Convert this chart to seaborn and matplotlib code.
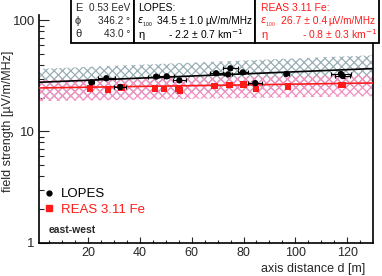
import numpy as np
import pandas as pd
import seaborn as sns
import matplotlib
matplotlib.use("Agg")
import matplotlib.pyplot as plt
from matplotlib.patches import Rectangle
from matplotlib.lines import Line2D
from matplotlib.ticker import FixedLocator, NullFormatter

# ---------------------------------------------------------------- data
lopes_d = [21.2, 27.0, 32.3, 46.2, 50.3, 55.2, 69.4, 74.0, 74.9, 79.7, 84.5, 96.5, 117.6, 118.3]
lopes_f = [27.7, 30.2, 25.2, 31.2, 31.4, 28.9, 33.5, 32.7, 37.1, 34.1, 27.3, 33.0, 33.0, 31.6]
lopes_derr = [1.0, 3.2, 2.3, 3.0, 3.0, 2.6, 2.5, 1.5, 3.0, 2.0, 2.6, 1.0, 3.9, 3.0]
lopes_ferr = [1.2, 1.2, 1.0, 1.1, 1.1, 1.2, 1.1, 1.1, 1.3, 1.1, 1.0, 1.0, 1.2, 1.1]

reas_d = [20.7, 27.7, 32.9, 45.8, 49.3, 54.8, 55.5, 68.7, 74.5, 80.0, 84.8, 97.1, 117.6, 118.3]
reas_f = [24.5, 23.8, 25.0, 24.5, 24.1, 24.1, 23.5, 25.7, 26.2, 26.4, 24.1, 25.3, 26.1, 26.3]

# fit results (eps_100 in uV/m/MHz, eta in 1/km)
lopes_eps, lopes_eta = 34.5, -2.2
reas_eps, reas_eta = 26.7, -0.8
lopes_band = (0.70, 1.32)
reas_band = (0.76, 1.18)

# ---------------------------------------------------------------- style
sns.set_theme(style="ticks")
plt.rcParams["font.family"] = ["Liberation Sans", "DejaVu Sans"]
plt.rcParams["hatch.linewidth"] = 0.9

W, H = 382, 276
fig = plt.figure(figsize=(W / 100, H / 100), dpi=100)
ax = fig.add_axes([39 / W, 1 - 242.5 / H, (373 - 39) / W, (242.5 - 15) / H])


def px(x, y):
    return x / W, 1 - y / H


d = np.linspace(1, 130, 200)
fit = pd.DataFrame({
    "d": d,
    "lopes": lopes_eps * np.exp(-lopes_eta * (d - 100) / 1000),
    "reas": reas_eps * np.exp(-reas_eta * (d - 100) / 1000),
})

ax.fill_between(fit["d"], fit["lopes"] * lopes_band[0], fit["lopes"] * lopes_band[1],
                facecolor="none", edgecolor="#99aeb5", hatch="xxxx", linewidth=0, zorder=1)
ax.fill_between(fit["d"], fit["reas"] * reas_band[0], fit["reas"] * reas_band[1],
                facecolor="none", edgecolor="#f38fc3", hatch="xxxx", linewidth=0, zorder=1)

sns.lineplot(data=fit, x="d", y="lopes", color="black", lw=1.2, ax=ax, zorder=3)
sns.lineplot(data=fit, x="d", y="reas", color="#ff1a1a", lw=1.2, ax=ax, zorder=3)

sns.scatterplot(x=reas_d, y=reas_f, marker="s", s=22, color="#ff1a1a", edgecolor="none",
                ax=ax, zorder=5)
ax.errorbar(lopes_d, lopes_f, xerr=lopes_derr, yerr=lopes_ferr, fmt="none", ecolor="black",
            elinewidth=0.8, capsize=1.5, capthick=0.8, zorder=6)
sns.scatterplot(x=lopes_d, y=lopes_f, marker="o", s=20, color="black", edgecolor="none",
                ax=ax, zorder=7)

ax.set_yscale("log")
ax.set_xlim(1, 130)
ax.set_ylim(1, 112)
ax.set_xticks([20, 40, 60, 80, 100, 120])
ax.xaxis.set_minor_locator(FixedLocator(np.arange(5, 130, 5)))
ax.set_yticks([1, 10, 100])
ax.set_yticklabels(["1", "10", "100"])
ax.yaxis.set_minor_locator(FixedLocator([m * 10 ** e for e in range(0, 2) for m in range(2, 10)]))
ax.yaxis.set_minor_formatter(NullFormatter())
ax.tick_params(axis="x", which="major", direction="in", length=4.5, width=0.8, labelsize=9, pad=3)
ax.tick_params(axis="x", which="minor", direction="in", length=2.2, width=0.8)
ax.tick_params(axis="y", which="major", direction="in", length=7, width=0.8, labelsize=9.5, pad=3)
ax.tick_params(axis="y", which="minor", direction="in", length=3.6, width=0.8)
ax.spines["top"].set_visible(False)
for s in ["left", "bottom", "right"]:
    ax.spines[s].set_linewidth(1.2)
    ax.spines[s].set_color("black")
ax.set_xlabel("")
ax.set_ylabel("")

fig.text(*px(365, 269), "axis distance d [m]", ha="right", va="center", fontsize=9)
fig.text(*px(8, 121), "field strength [µV/m/MHz]", ha="center", va="center",
         rotation=90, fontsize=9)

# legend
handles = [Line2D([], [], marker="o", color="black", ls="none", ms=3.5),
           Line2D([], [], marker="s", color="#ff1a1a", ls="none", ms=4)]
ax.legend(handles, ["LOPES", "REAS 3.11 Fe"], loc="upper left",
          bbox_to_anchor=px(44, 188), bbox_transform=fig.transFigure,
          frameon=False, fontsize=9.5, labelcolor=["black", "#ff1a1a"],
          handlelength=0.8, handletextpad=0.5, borderpad=0, borderaxespad=0,
          labelspacing=0.25)
fig.text(*px(49, 230), "east-west", fontsize=7.5, fontweight="bold", va="center")

# info boxes
for x0, x1 in [(71, 134), (134, 255), (255, 379)]:
    fig.add_artist(Rectangle(px(x0, 43), (x1 - x0) / W, 44 / H, transform=fig.transFigure,
                             facecolor="white", edgecolor="black", lw=1.3, zorder=10))

box1 = [("E", "0.53 EeV", 8), ("ϕ", "346.2 °", 21), ("θ", "43.0 °", 34)]
for sym, val, y in box1:
    fig.text(*px(75, y), sym, fontsize=8, va="center", zorder=11)
    fig.text(*px(130, y), val, fontsize=7.2, va="center", ha="right", zorder=11)

red = "#ff1a1a"
for x0, col, title, eps, unit, eta, eps_x, unit_x, eta_x in [
        (138, "black", "LOPES:", "34.5 ± 1.0", "µV/m/MHz", "- 2.2 ± 0.7 km$^{-1}$", 157, 205, 168),
        (261, red, "REAS 3.11 Fe:", "26.7 ± 0.4", "µV/m/MHz", "- 0.8 ± 0.3 km$^{-1}$", 281, 328, 302)]:
    fig.text(*px(x0, 8), title, fontsize=7.5, va="center", color=col, zorder=11)
    fig.text(*px(x0 - 1, 22), r"$\varepsilon_{_{100}}$", fontsize=7, va="center", color=col, zorder=11)
    fig.text(*px(eps_x, 21), eps, fontsize=7.5, va="center", color=col, zorder=11)
    fig.text(*px(unit_x, 21), unit, fontsize=7.2, va="center", color=col, zorder=11)
    fig.text(*px(x0, 35), "η", fontsize=8, va="center", color=col, zorder=11)
    fig.text(*px(eta_x, 34), eta, fontsize=7.5, va="center", color=col, zorder=11)

fig.savefig("out.png", dpi=100)
